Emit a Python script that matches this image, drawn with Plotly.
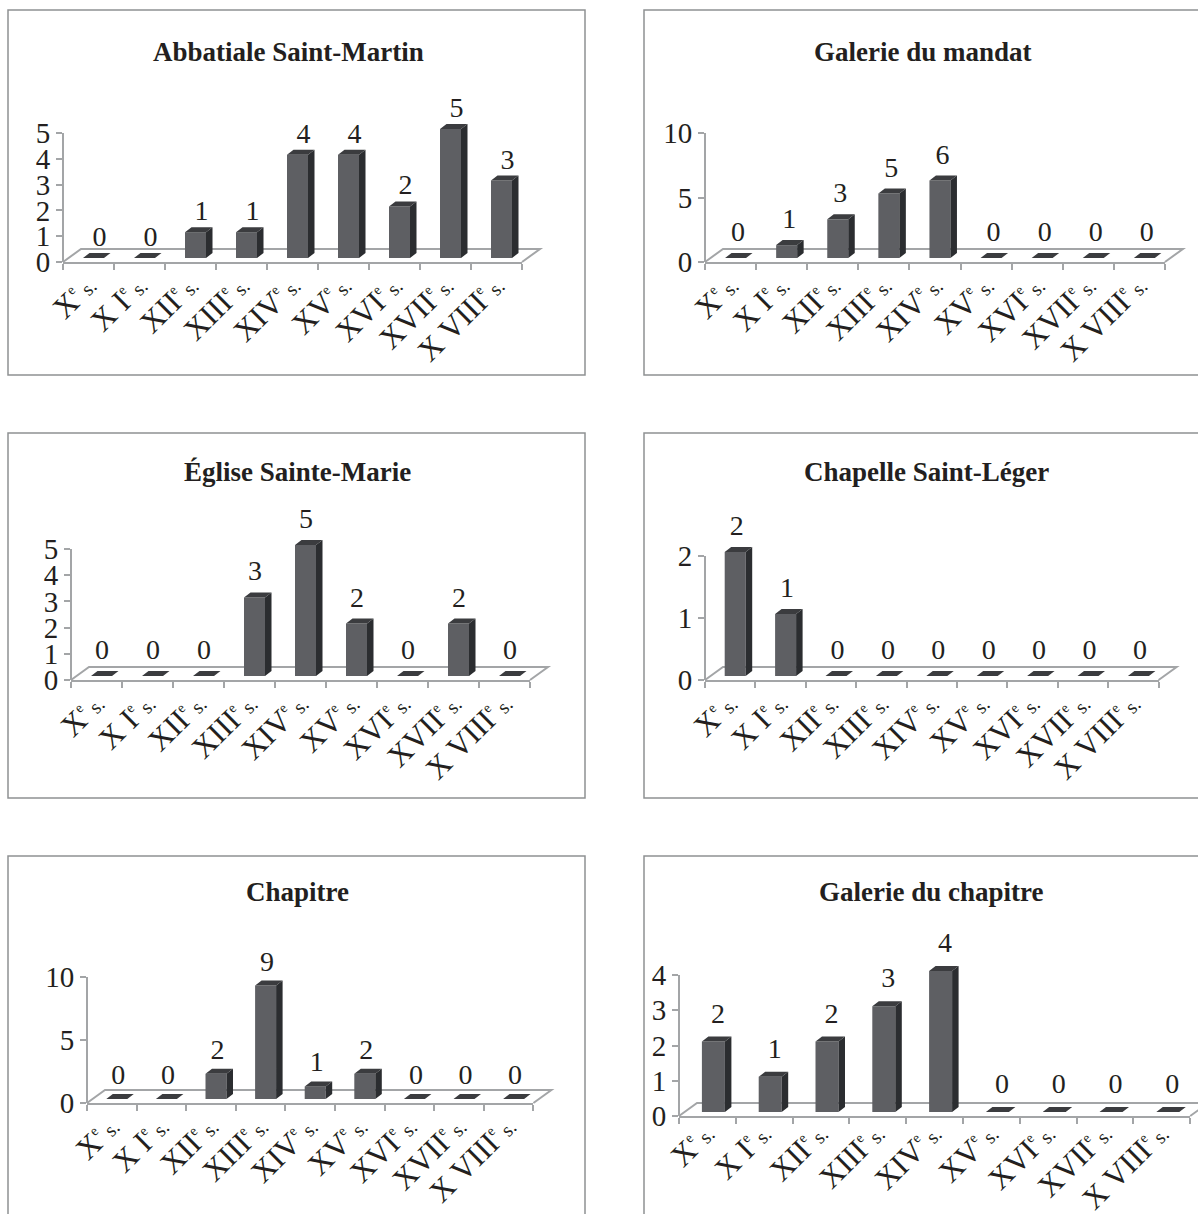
import plotly.graph_objects as go

W, H = 1198, 1214

centuries = ["X", "X I", "XII", "XIII", "XIV", "XV", "XVI", "XVII", "X VIII"]
titles = ["Abbatiale Saint-Martin", "Galerie du mandat", "Église Sainte-Marie",
          "Chapelle Saint-Léger", "Chapitre", "Galerie du chapitre"]
abbatiale = [0, 0, 1, 1, 4, 4, 2, 5, 3]
mandat = [0, 1, 3, 5, 6, 0, 0, 0, 0]
sainte_marie = [0, 0, 0, 3, 5, 2, 0, 2, 0]
saint_leger = [2, 1, 0, 0, 0, 0, 0, 0, 0]
chapitre = [0, 0, 2, 9, 1, 2, 0, 0, 0]
galerie_chapitre = [2, 1, 2, 3, 4, 0, 0, 0, 0]
series = [abbatiale, mandat, sainte_marie, saint_leger, chapitre, galerie_chapitre]
y_maxima = [5, 10, 5, 2, 10, 4]
y_ticks = [[0, 1, 2, 3, 4, 5], [0, 5, 10], [0, 1, 2, 3, 4, 5], [0, 1, 2], [0, 5, 10], [0, 1, 2, 3, 4]]

# page geometry of each panel, in pixels
panels = [
    dict(frame=(8, 10, 585, 375), x0=63, zero=262, top=133, step=51.0, title=(288, 52), lab=19, bw=21, shift=5, lx=6, stand=-15),
    dict(frame=(644, 10, 1204, 375), x0=705, zero=262, top=133, step=51.1, title=(923, 52), lab=24, bw=21, shift=5, lx=2.5, stand=-15),
    dict(frame=(8, 433, 585, 798), x0=71, zero=680, top=549, step=51.0, title=(297, 472), lab=24, bw=21, shift=5, lx=0.5, stand=-15),
    dict(frame=(644, 433, 1204, 798), x0=705, zero=680, top=556, step=50.4, title=(926, 472), lab=24, bw=21, shift=5, lx=1.5, stand=-15),
    dict(frame=(8, 856, 585, 1222), x0=87, zero=1103, top=977, step=49.6, title=(297, 892), lab=22, bw=21, shift=5, lx=1.5, stand=-15),
    dict(frame=(644, 856, 1204, 1222), x0=679, zero=1116, top=975, step=56.8, title=(931, 892), lab=26, bw=23, shift=6, lx=4.5, stand=-21),
]

FONT = "Liberation Serif, Times New Roman, serif"
INK = "#231f20"
FRONT, SIDE, TOPC = "#5e5f63", "#2b2d30", "#3b3c3f"
LINE = "#a3a5a7"
DX, DY, BASE_PX = 6.5, 5, 4
FLOOR_DX, FLOOR_DY = 18, 13
HEADROOM = 60


def px(x):
    return x / W


def py(y):
    return 1 - y / H


fig = go.Figure()
shapes, annotations = [], []
layout_axes = {}
tick_text = [f"{c}<sup><span style='font-size:14px'>e</span></sup><span style='font-size:20px'> s.</span>" for c in centuries] + [""]

for n, (p, values, title, ymax, yt) in enumerate(zip(panels, series, titles, y_maxima, y_ticks), start=1):
    xa, ya = f"x{n}", f"y{n}"
    s = p["step"]
    scale = (p["zero"] - p["top"]) / ymax
    xend = p["x0"] + 9 * s
    base = BASE_PX / scale
    w = p["bw"] / s
    ddx, ddy = DX / s, DY / scale
    shift = p["shift"] / s
    centers = [i + shift for i in range(9)]

    l, t, r, b = p["frame"]
    shapes.append(dict(type="rect", xref="paper", yref="paper", x0=px(l), x1=px(r), y0=py(b), y1=py(t),
                       line=dict(color="#8f9193", width=1.5), fillcolor="white", layer="below"))
    floor = (f"M {px(p['x0'])} {py(p['zero'])} L {px(p['x0'] + FLOOR_DX)} {py(p['zero'] - FLOOR_DY)} "
             f"L {px(xend + FLOOR_DX)} {py(p['zero'] - FLOOR_DY)} L {px(xend)} {py(p['zero'])}")
    shapes.append(dict(type="path", xref="paper", yref="paper", path=floor,
                       line=dict(color=LINE, width=2), layer="below"))
    shapes.append(dict(type="line", xref="paper", yref="paper", x0=px(p["x0"]), x1=px(p["x0"]),
                       y0=py(p["zero"]), y1=py(p["top"]), line=dict(color=LINE, width=2), layer="below"))

    fig.add_trace(go.Bar(x=centers, y=values, base=base, width=w, marker=dict(color=FRONT, line_width=0),
                         xaxis=xa, yaxis=ya, cliponaxis=False, showlegend=False, hoverinfo="skip"))

    side_x, side_y, top_x, top_y = [], [], [], []
    for c, v in zip(centers, values):
        right = c + w / 2
        left = c - w / 2
        head = v + base
        side_x += [right, right + ddx, right + ddx, right, right, None]
        side_y += [head, head + ddy, base + ddy, base, head, None]
        top_x += [left, left + ddx, right + ddx, right, left, None]
        top_y += [head, head + ddy, head + ddy, head, head, None]
    for fx, fy, col in ((side_x, side_y, SIDE), (top_x, top_y, TOPC)):
        fig.add_trace(go.Scatter(x=fx, y=fy, mode="lines", fill="toself", fillcolor=col, line=dict(width=0, color=col),
                                 xaxis=xa, yaxis=ya, cliponaxis=False, showlegend=False, hoverinfo="skip"))

    fig.add_trace(go.Scatter(x=[c + p["lx"] / s for c in centers], y=[v + (BASE_PX + p["lab"]) / scale for v in values],
                             mode="text", text=[str(v) for v in values], textposition="middle center",
                             textfont=dict(family=FONT, size=28, color=INK),
                             xaxis=xa, yaxis=ya, cliponaxis=False, showlegend=False, hoverinfo="skip"))

    suffix = "" if n == 1 else str(n)
    layout_axes[f"xaxis{suffix}"] = dict(
        domain=[px(p["x0"]), px(xend)], range=[-0.5, 8.5], anchor=ya, showgrid=False, zeroline=False,
        showline=True, linecolor=LINE, linewidth=2, ticks="outside", ticklen=6, tickcolor=LINE, tickwidth=2,
        tickmode="array", tickvals=[i - 0.5 for i in range(10)], ticktext=tick_text, tickangle=-45,
        ticklabelshift=int(round(s / 2 - 2)), ticklabelstandoff=p["stand"],
        tickfont=dict(family=FONT, size=31, color=INK), automargin=False, fixedrange=True)
    layout_axes[f"yaxis{suffix}"] = dict(
        domain=[py(p["zero"]), py(p["top"] - HEADROOM)], range=[0, ymax + HEADROOM / scale], anchor=xa,
        showgrid=False, zeroline=False, showline=False, ticks="outside", ticklen=6, tickcolor=LINE, tickwidth=2,
        tickmode="array", tickvals=yt, tickfont=dict(family=FONT, size=29, color=INK), automargin=False, fixedrange=True)

    annotations.append(dict(text=f"<b>{title}</b>", xref="paper", yref="paper", x=px(p["title"][0]), y=py(p["title"][1]),
                            xanchor="center", yanchor="middle", showarrow=False,
                            font=dict(family=FONT, size=27, color=INK)))

fig.update_layout(width=W, height=H, margin=dict(l=0, r=0, t=0, b=0), paper_bgcolor="white", plot_bgcolor="rgba(0,0,0,0)",
                  shapes=shapes, annotations=annotations, showlegend=False, barmode="overlay", **layout_axes)

fig.write_html("out.html", config=dict(displayModeBar=False),
               post_script="document.body.style.margin='0';document.body.style.overflow='hidden';")
